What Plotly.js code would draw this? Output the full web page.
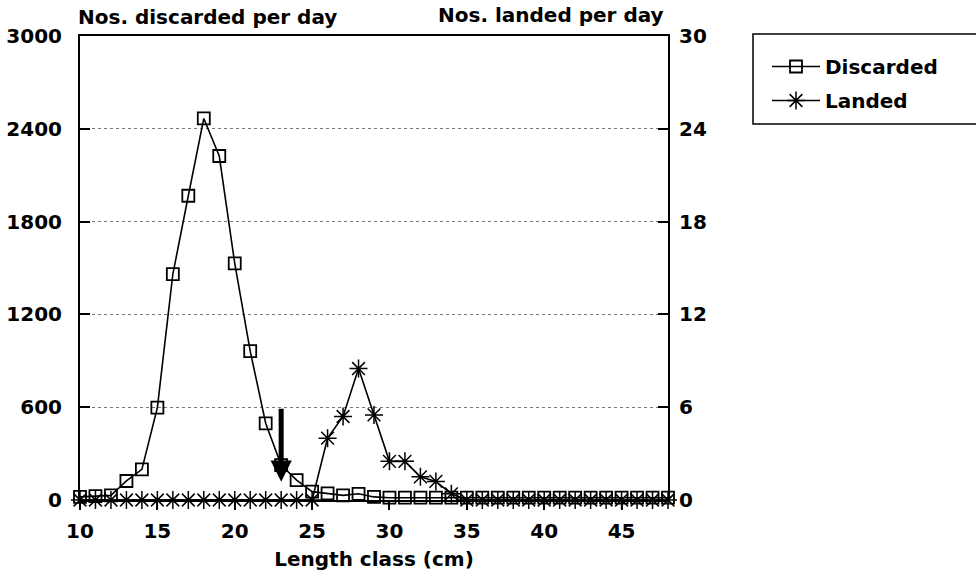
<!DOCTYPE html>
<html>
<head>
<meta charset="utf-8">
<script src="https://cdn.plot.ly/plotly-3.0.1.min.js"></script>
<style>
  html, body { margin: 0; padding: 0; background: #fff; }
  #chart { width: 976px; height: 573px; }
</style>
</head>
<body>
<div id="chart"></div>
<script>
// Length classes (cm)
const lengthClass = [10, 11, 12, 13, 14, 15, 16, 17, 18, 19, 20, 21, 22, 23, 24, 25, 26, 27, 28, 29,
                     30, 31, 32, 33, 34, 35, 36, 37, 38, 39, 40, 41, 42, 43, 44, 45, 46, 47, 48];

// Numbers discarded per day (left axis)
const discarded = [20, 25, 30, 123, 198, 597, 1460, 1967, 2467, 2224, 1530, 963, 496, 226, 129, 54, 43, 30, 40, 20,
                   15, 15, 15, 15, 15, 15, 15, 15, 15, 15, 15, 15, 15, 15, 15, 15, 15, 15, 15];

// Numbers landed per day (right axis)
const landed = [0, 0, 0, 0, 0, 0, 0, 0, 0, 0, 0, 0, 0, 0, 0, 0, 4.0, 5.4, 8.5, 5.5,
                2.5, 2.5, 1.5, 1.2, 0.4, 0, 0, 0, 0, 0, 0, 0, 0, 0, 0, 0, 0, 0, 0];

const leftTicks = [0, 600, 1200, 1800, 2400, 3000];
const rightTicks = [0, 6, 12, 18, 24, 30];
const xTicks = [10, 15, 20, 25, 30, 35, 40, 45];

// Minimum landing size marker
const mlsLength = 23;
const mlsArrowFrom = 600;
const mlsArrowTo = 118;

const FONT = { family: '"DejaVu Sans", Arial, sans-serif', size: 20, color: '#000', weight: 'bold' };

const traces = [
  {
    x: lengthClass, y: discarded, name: 'Discarded', type: 'scatter', mode: 'lines+markers',
    legendgroup: 'd',
    line: { color: '#000', width: 1.6 },
    marker: { symbol: 'square-open', size: 12, color: '#000', line: { width: 1.8, color: '#000' } },
    cliponaxis: false, yaxis: 'y'
  },
  {
    x: lengthClass, y: landed, name: 'Landed', type: 'scatter', mode: 'lines+markers',
    legendgroup: 'l',
    line: { color: '#000', width: 1.6 },
    marker: { symbol: 'asterisk-open', size: 15, color: '#000', line: { width: 1.5, color: '#000' } },
    cliponaxis: false, yaxis: 'y2'
  }
];

// plot frame in pixels
const L = 80, R = 308, T = 36, B = 73;
const W = 976, H = 573;
const pw = W - L - R, ph = H - T - B;
const px = v => (v - L) / pw;
const py = v => (H - B - v) / ph;

const layout = {
  width: W, height: H,
  margin: { l: L, r: R, t: T, b: B, pad: 0 },
  paper_bgcolor: '#fff', plot_bgcolor: '#fff',
  font: FONT,
  showlegend: true,
  legend: {
    x: px(767), y: py(47), xanchor: 'left', yanchor: 'top',
    bgcolor: 'rgba(0,0,0,0)', borderwidth: 0,
    font: FONT, itemwidth: 48, tracegroupgap: 5
  },
  xaxis: {
    range: [10, 48], tickvals: xTicks, ticktext: xTicks.map(String),
    showline: true, linecolor: '#000', linewidth: 2, mirror: true,
    ticks: 'outside', ticklen: 8, tickwidth: 2, tickcolor: '#000',
    showgrid: false, zeroline: false, ticklabelstandoff: 4,
    title: { text: 'Length class (cm)', font: FONT, standoff: 10 }
  },
  yaxis: {
    range: [0, 3000], tickvals: leftTicks, ticktext: leftTicks.map(String),
    showline: true, linecolor: '#000', linewidth: 2,
    ticks: 'inside', ticklen: 10, tickwidth: 2, tickcolor: '#000',
    showgrid: true, gridcolor: '#777', gridwidth: 1, griddash: 'dot',
    zeroline: false, ticklabelstandoff: 12
  },
  yaxis2: {
    range: [0, 30], tickvals: rightTicks, ticktext: rightTicks.map(String),
    overlaying: 'y', side: 'right',
    showline: true, linecolor: '#000', linewidth: 2,
    ticks: 'inside', ticklen: 10, tickwidth: 2, tickcolor: '#000',
    showgrid: false, zeroline: false, ticklabelstandoff: 5
  },
  shapes: [
    { type: 'rect', xref: 'paper', yref: 'paper',
      x0: px(753), x1: px(990), y0: py(34), y1: py(124),
      line: { color: '#000', width: 1.5 }, fillcolor: 'rgba(0,0,0,0)' }
  ],
  annotations: [
    { xref: 'paper', yref: 'paper', x: 0, y: 1, xanchor: 'left', yanchor: 'middle',
      xshift: -4, yshift: 19, text: 'Nos. discarded per day', showarrow: false, font: FONT },
    { xref: 'paper', yref: 'paper', x: 1, y: 1, xanchor: 'right', yanchor: 'middle',
      xshift: -2, yshift: 21, text: 'Nos. landed per day', showarrow: false, font: FONT },
    { xref: 'x', yref: 'y', axref: 'x', ayref: 'y',
      x: mlsLength, y: mlsArrowTo, ax: mlsLength, ay: mlsArrowFrom,
      text: '', showarrow: true, arrowhead: 2, arrowsize: 0.85, arrowwidth: 5,
      arrowcolor: '#000', standoff: 0, startstandoff: 0 }
  ]
};

Plotly.newPlot('chart', traces, layout, { displayModeBar: false, staticPlot: true });
</script>
</body>
</html>
